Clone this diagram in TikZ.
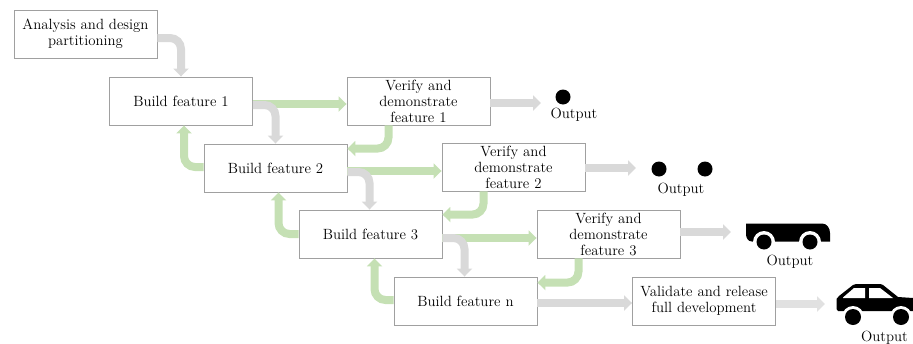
\documentclass[tikz,border=0pt]{standalone}
\usepackage{tikz}
\usetikzlibrary{arrows.meta}

\definecolor{flowgray}{HTML}{D9D9D9}
\definecolor{flowgreen}{HTML}{C5E0B4}
\definecolor{boxline}{HTML}{A0A0A0}

\tikzset{
  box/.style={draw=boxline,line width=0.9pt,fill=white,minimum width=143pt,minimum height=48pt,inner sep=0pt,text width=141pt,align=center,font=\fontsize{14.8}{16}\selectfont},
  flow/.style={line width=8pt,rounded corners=11pt,-{Triangle[length=8pt,width=15pt]}},
  gray flow/.style={flow,flowgray},
  green flow/.style={flow,flowgreen},
  outputlabel/.style={inner sep=0pt,font=\fontsize{14.8}{16}\selectfont}
}

\begin{document}
\begin{tikzpicture}[x=1pt,y=-1pt]

\useasboundingbox (0,0) rectangle (913,343);

\node[box] (nodeAnalysis) at (85.5,34) {Analysis and design\\partitioning};

\node[box] (nodeBuild1) at (181,101) {Build feature 1};
\node[box] (nodeBuild2) at (275.5,168) {Build feature 2};
\node[box] (nodeBuild3) at (370.5,234) {Build feature 3};
\node[box] (nodeBuildN) at (465.5,301) {Build feature n};

\node[box] (nodeVerify1) at (418.5,101) {Verify and\\demonstrate\\feature 1};
\node[box] (nodeVerify2) at (513.5,167) {Verify and\\demonstrate\\feature 2};
\node[box] (nodeVerify3) at (608.5,234) {Verify and\\demonstrate\\feature 3};
\node[box] (nodeValidate) at (704,301) {Validate and release\\full development};

\coordinate (endOutput1) at (541,103);
\coordinate (endOutput2) at (636,168);
\coordinate (endOutput3) at (731,232);
\coordinate (endOutput4) at (825,304);

\draw [green flow] ([yshift=-3]nodeBuild1.east) -- ([yshift=-3]nodeVerify1.west);
\draw [green flow] ([yshift=-3]nodeBuild2.east) -- ([yshift=-4]nodeVerify2.west);
\draw [green flow] ([yshift=-4]nodeBuild3.east) -- ([yshift=-4]nodeVerify3.west);

\draw [green flow] ([xshift=-30]nodeVerify1.south) |- ([yshift=-5]nodeBuild2.north east);
\draw [green flow] ([xshift=-30]nodeVerify2.south) |- ([yshift=-5]nodeBuild3.north east);
\draw [green flow] ([xshift=-30]nodeVerify3.south) |- ([yshift=-6]nodeBuildN.north east);

\draw [green flow] ([yshift=1]nodeBuild2.west) -| ([xshift=3]nodeBuild1.south);
\draw [green flow] (nodeBuild3.west) -| ([xshift=3]nodeBuild2.south);
\draw [green flow] ([yshift=1]nodeBuildN.west) -| ([xshift=4]nodeBuild3.south);

\draw [gray flow] ([yshift=-4]nodeAnalysis.east) -| (nodeBuild1.north);
\draw [gray flow] ([yshift=-4]nodeBuild1.east) -| (nodeBuild2.north);
\draw [gray flow] ([yshift=-4]nodeBuild2.east) -| ([xshift=-1]nodeBuild3.north);
\draw [gray flow] ([yshift=-4]nodeBuild3.east) -| ([xshift=-1]nodeBuildN.north);

\draw [gray flow] (nodeBuildN.east |- 0,303) -- (nodeValidate.west |- 0,303);

\draw [gray flow] (nodeVerify1.east |- endOutput1) -- (endOutput1);
\draw [gray flow] (nodeVerify2.east |- endOutput2) -- (endOutput2);
\draw [gray flow] (nodeVerify3.east |- endOutput3) -- (endOutput3);
\draw [gray flow,flowgray!80] (nodeValidate.east |- endOutput4) -- (endOutput4);

\fill (563,97) circle (7.5);
\node[outputlabel] (nodeOutput1) at (574,115) {Output};

\fill (659,169) circle (7.5);
\fill (705,169) circle (7.5);
\node[outputlabel] (nodeOutput2) at (681,190) {Output};

\fill (746,223.5) -- (822,223.5) .. controls (827,223.5) and (830,228) .. (830,233) -- (830,241.5) -- (752,241.5) .. controls (748,241.5) and (746,238) .. (746,234) -- cycle;
\fill[white] (764,242) circle (11);
\fill[white] (810,242) circle (11);
\fill (764,242) circle (7.5);
\fill (810,242) circle (7.5);
\node[outputlabel] (nodeOutput3) at (790,262) {Output};

\fill (838,311) -- (836.5,309) -- (836.5,299) -- (839,296) -- (853,285) .. controls (854,284.3) and (855,284) .. (856,284) -- (879,284) .. controls (881,284) and (882,284.5) .. (883,285) -- (898,297) -- (913,298) -- (913,311) -- cycle;
\fill[white] (843,297.5) -- (854,288) -- (865,288) -- (865,298) -- (843,298) -- cycle;
\fill[white] (869,288) -- (880,288) -- (893,298) -- (869,298) -- cycle;
\fill[white] (853,317) circle (11);
\fill[white] (901,317) circle (11);
\fill (853,317) circle (8);
\fill (901,317) circle (8);
\node[outputlabel] (nodeOutput4) at (884.5,337.5) {Output};

\end{tikzpicture}
\end{document}
